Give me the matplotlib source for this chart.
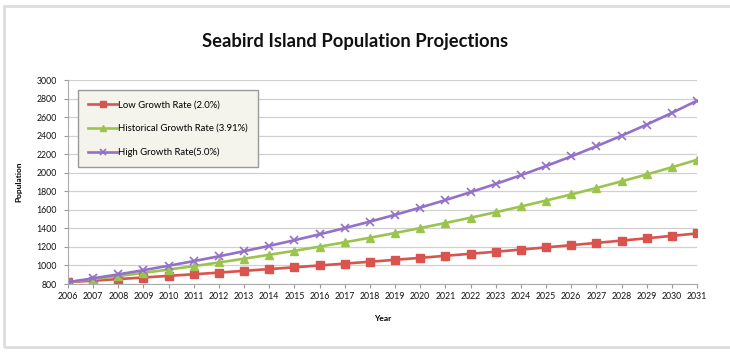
import matplotlib
matplotlib.use('Agg')

import matplotlib.pyplot as plt
from matplotlib.patches import Rectangle

years = list(range(2006, 2032))

low_growth = [820, 836, 853, 870, 888, 905, 923, 942, 961, 980, 1000, 1020, 1040,
              1061, 1082, 1104, 1126, 1148, 1171, 1195, 1219, 1243, 1268, 1293, 1319, 1345]
hist_growth = [820, 852, 885, 920, 956, 993, 1032, 1073, 1115, 1158, 1203, 1250, 1299,
               1350, 1403, 1458, 1515, 1574, 1636, 1700, 1766, 1835, 1907, 1981, 2059, 2139]
high_growth = [820, 861, 904, 949, 997, 1047, 1099, 1154, 1212, 1272, 1336, 1403, 1473,
               1546, 1624, 1705, 1790, 1879, 1973, 2072, 2176, 2285, 2399, 2519, 2645, 2777]

labels = ["Low Growth Rate (2.0%)", "Historical Growth Rate (3.91%)", "High Growth Rate(5.0%)"]
yticks = list(range(800, 3001, 200))

plt.rcParams['font.family'] = ['Lato', 'DejaVu Sans']

fig = plt.figure(figsize=(7.3, 3.56), dpi=100)
fig.patches.append(Rectangle((4 / 730, 1 - 347 / 356), 1.2, 341 / 356, transform=fig.transFigure,
                             facecolor='none', edgecolor='#dddddd', linewidth=2))

ax = fig.add_axes([68 / 730, 1 - 284 / 356, 629 / 730, 204 / 356])

ax.plot(years, low_growth, color='#d9534f', marker='s', markersize=5.5, linewidth=1.9, label=labels[0])
ax.plot(years, hist_growth, color='#9bc44f', marker='^', markersize=5.5, linewidth=1.9, label=labels[1])
ax.plot(years, high_growth, color='#9370c9', marker='x', markersize=5.5, markeredgewidth=1.2,
        linewidth=1.9, label=labels[2])

ax.set_xlim(2006, 2031)
ax.set_ylim(800, 3000)
ax.set_xticks(years)
ax.set_yticks(yticks)
ax.tick_params(axis='x', labelsize=6.3, length=3, color='#999999', labelcolor='#111111', pad=3)
ax.tick_params(axis='y', labelsize=6.3, length=3, color='#999999', labelcolor='#111111', pad=5)
ax.yaxis.grid(True, color='#d0d0d0', linewidth=0.9)
ax.set_axisbelow(True)
for side in ['top', 'right']:
    ax.spines[side].set_visible(False)
for side in ['left', 'bottom']:
    ax.spines[side].set_color('#aaaaaa')

ax.set_ylabel("Population", fontsize=6, fontweight='bold', labelpad=10)
ax.set_xlabel("Year", fontsize=6, fontweight='bold', labelpad=10)

leg = ax.legend(loc='upper left', bbox_to_anchor=(0.016, 0.952), borderaxespad=0, fontsize=6.8,
                frameon=True, fancybox=False, handlelength=3.0, labelspacing=1.55, borderpad=1.1,
                handletextpad=0.1, markerscale=0.85)
leg.get_frame().set_facecolor('#f4f3ec')
leg.get_frame().set_edgecolor('#999999')
leg.get_frame().set_alpha(1)

fig.text(355 / 730, 1 - 42 / 356, "Seabird Island Population Projections", ha='center', va='center',
         fontsize=13.2, fontweight='bold', color='#111111')

plt.savefig("out.png", dpi=100)
